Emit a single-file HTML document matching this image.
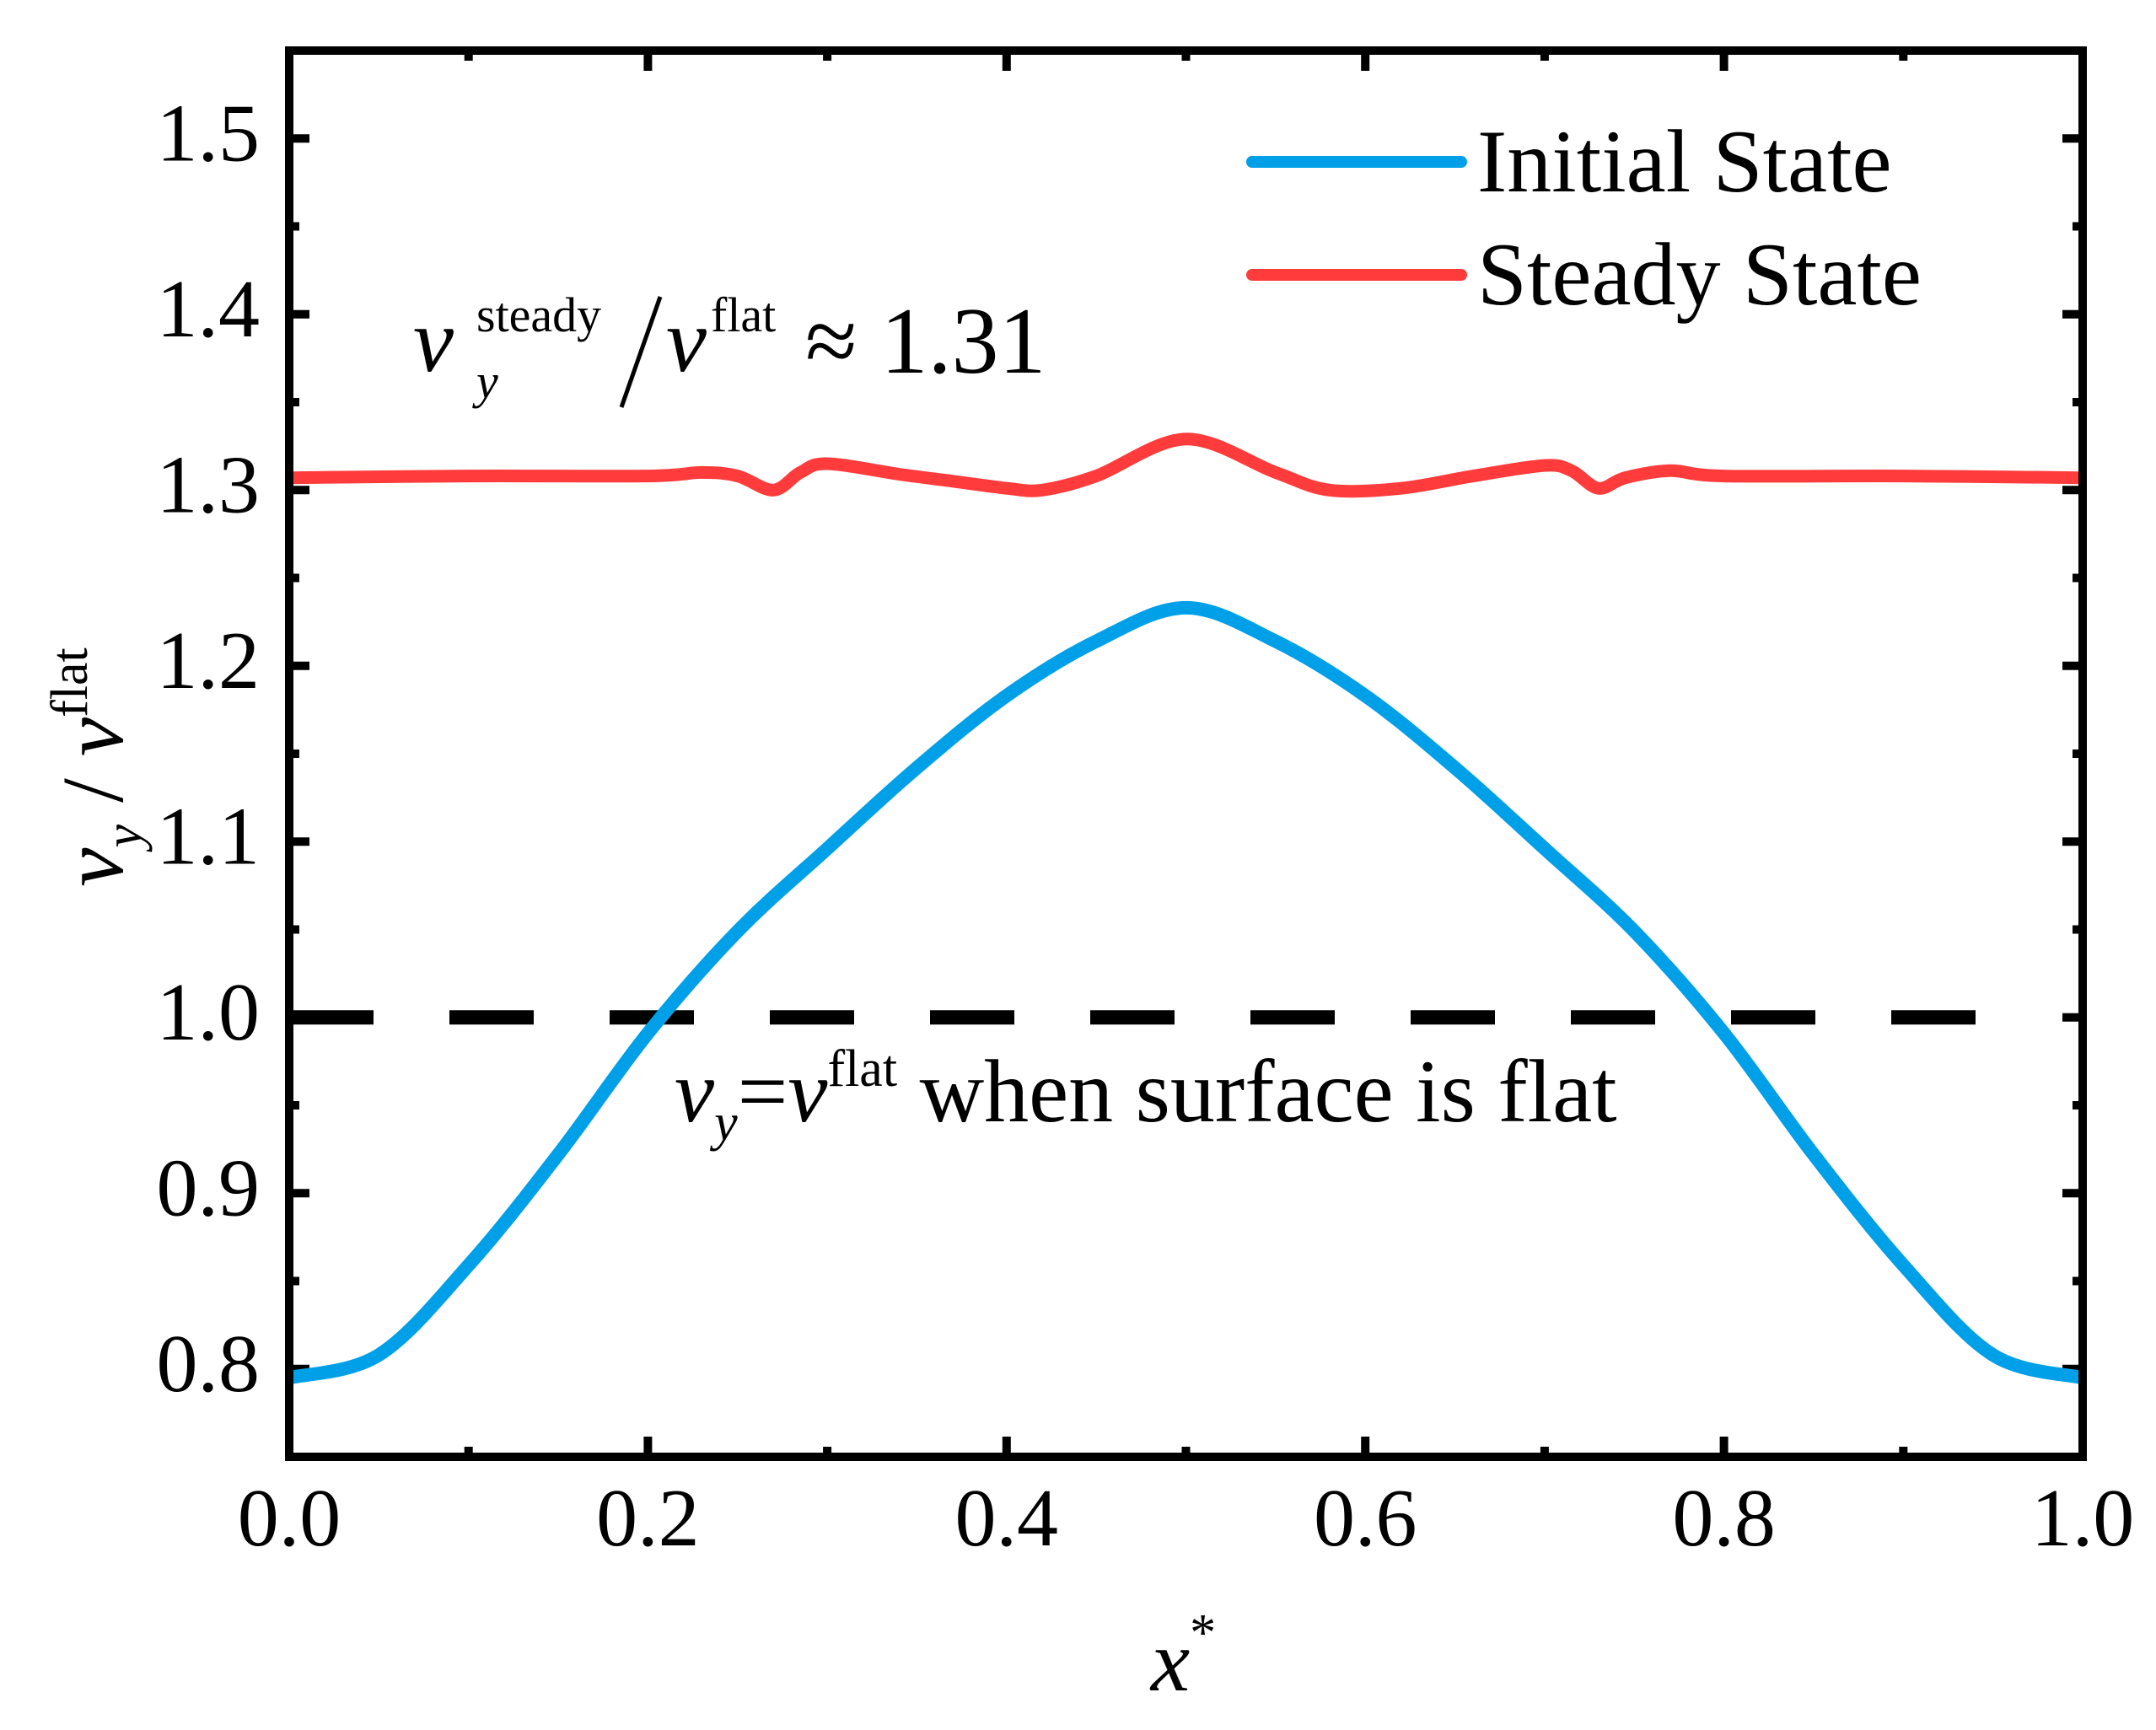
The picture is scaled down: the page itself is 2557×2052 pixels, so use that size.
<!DOCTYPE html>
<html><head><meta charset="utf-8"><style>
html,body{margin:0;padding:0;background:#fff;}
svg{display:block;font-family:"Liberation Serif",serif;}
</style></head><body>
<svg id="chart" width="2557" height="2052" viewBox="0 0 2557 2052" xmlns="http://www.w3.org/2000/svg">
<g id="ticks"></g>
<g id="marks"></g>
<rect x="343" y="60" width="2127" height="1668" fill="none" stroke="#000" stroke-width="10"/>
<g>
<line x1="1485" y1="192" x2="1733" y2="192" stroke="#00a0e9" stroke-width="14" stroke-linecap="round"/>
<text x="1752" y="227" font-size="106">Initial State</text>
<line x1="1485" y1="326" x2="1733" y2="326" stroke="#ff3b3b" stroke-width="14" stroke-linecap="round"/>
<text x="1752" y="361" font-size="106">Steady State</text>
</g>
<g>
<text x="490" y="440" font-size="108" font-style="italic">v</text>
<text x="565" y="393" font-size="58">steady</text>
<text x="565" y="472" font-size="58" font-style="italic">y</text>
<line x1="783" y1="352" x2="737" y2="483" stroke="#000" stroke-width="5"/>
<text x="790" y="440" font-size="108" font-style="italic">v</text>
<text x="843" y="393" font-size="58">flat</text>
<text x="955" y="442" font-size="112">≈ 1.31</text>
</g>
<text x="800" y="1330" font-size="106"><tspan font-style="italic">v</tspan><tspan font-style="italic" font-size="62" dy="22">y</tspan><tspan dy="-22">=</tspan><tspan font-style="italic">v</tspan><tspan font-size="62" dy="-42">flat</tspan><tspan dy="42"> when surface is flat</tspan></text>
<text transform="translate(145,910) rotate(-90)" text-anchor="middle" font-size="104"><tspan font-style="italic">v</tspan><tspan font-style="italic" font-size="62" dy="22">y</tspan><tspan dy="-22"> / </tspan><tspan font-style="italic">v</tspan><tspan font-size="62" dy="-42">flat</tspan></text>
<text x="1365" y="2005" font-size="104" font-style="italic">x<tspan font-style="normal" font-size="62" dy="-48">*</tspan></text>
</svg>
<script>
const xs = [0,0.05,0.1,0.15,0.2,0.25,0.3,0.35,0.4,0.45,0.5,0.55,0.6,0.65,0.7,0.75,0.8,0.85,0.9,0.95,1.0];
const initialVals = [0.795,0.808,0.859,0.922,0.991,1.049,1.096,1.142,1.183,1.214,1.233,1.214,1.183,1.142,1.096,1.049,0.991,0.922,0.859,0.808,0.795];
const steadyX = [0,0.1,0.2,0.23,0.25,0.27,0.285,0.3,0.34,0.37,0.4,0.42,0.45,0.5,0.55,0.58,0.62,0.66,0.70,0.715,0.73,0.745,0.77,0.8,0.9,1.0];
const steadyVals = [1.307,1.308,1.308,1.310,1.308,1.300,1.310,1.315,1.309,1.305,1.301,1.300,1.308,1.329,1.310,1.300,1.301,1.308,1.314,1.311,1.301,1.307,1.311,1.308,1.308,1.307];
const dashY = [1.0];
const xTicks = [0,0.2,0.4,0.6,0.8,1.0];
const xTickLabels = ["0.0","0.2","0.4","0.6","0.8","1.0"];
const yTicks = [0.8,0.9,1.0,1.1,1.2,1.3,1.4,1.5];
const yTickLabels = ["0.8","0.9","1.0","1.1","1.2","1.3","1.4","1.5"];

const L=343,R=2470,T=60,B=1728,Y0=0.75,Y1=1.55;
const sx=v=>L+(R-L)*v;
const sy=v=>B-(B-T)*(v-Y0)/(Y1-Y0);
const NS="http://www.w3.org/2000/svg";
const ticks=document.getElementById('ticks'), marks=document.getElementById('marks');
function mk(tag,attrs,parent){const e=document.createElementNS(NS,tag);for(const k in attrs)e.setAttribute(k,attrs[k]);parent.appendChild(e);return e;}

for(let i=0;i<=10;i++){
  const v=i/10, x=sx(v), len=(i%2===0)?24:12;
  let t=mk('line',{x1:x,y1:B,x2:x,y2:B-len,stroke:'#000','stroke-width':10},ticks);
  
  
  t=mk('line',{x1:x,y1:T,x2:x,y2:T+len,stroke:'#000','stroke-width':10},ticks);
  
  
}
xTicks.forEach((v,i)=>{
  const t=mk('text',{x:sx(v),y:1833,'text-anchor':'middle','font-size':98},ticks);
  t.textContent=xTickLabels[i];
  
  
});
for(let i=0;i<=16;i++){
  const v=0.75+i*0.05; if(v>1.551)break;
  const y=sy(v), len=(i%2===1)?24:12;
  let t=mk('line',{x1:L,y1:y,x2:L+len,y2:y,stroke:'#000','stroke-width':10},ticks);
  
  
  t=mk('line',{x1:R,y1:y,x2:R-len,y2:y,stroke:'#000','stroke-width':10},ticks);
  
  
}
yTicks.forEach((v,i)=>{
  const t=mk('text',{x:308,y:sy(v)+26,'text-anchor':'end','font-size':98},ticks);
  t.textContent=yTickLabels[i];
  
  
});

const d=mk('line',{x1:sx(0),y1:sy(dashY[0]),x2:sx(0.965),y2:sy(dashY[0]),stroke:'#000','stroke-width':17,'stroke-dasharray':'100 90'},marks);



function path(xa,ya){
  const p=xa.map((x,i)=>[sx(x),sy(ya[i])]);
  let s='M'+p[0][0].toFixed(1)+','+p[0][1].toFixed(1);
  for(let i=0;i<p.length-1;i++){
    const p0=p[Math.max(0,i-1)],p1=p[i],p2=p[i+1],p3=p[Math.min(p.length-1,i+2)];
    const c1=[p1[0]+(p2[0]-p0[0])/6,p1[1]+(p2[1]-p0[1])/6];
    const c2=[p2[0]-(p3[0]-p1[0])/6,p2[1]-(p3[1]-p1[1])/6];
    s+=' C'+c1.map(n=>n.toFixed(1)).join(',')+' '+c2.map(n=>n.toFixed(1)).join(',')+' '+p2.map(n=>n.toFixed(1)).join(',');
  }
  return s;
}
const pi=mk('path',{d:path(xs,initialVals),fill:'none',stroke:'#00a0e9','stroke-width':16,'stroke-linejoin':'round'},marks);


const ps=mk('path',{d:path(steadyX,steadyVals),fill:'none',stroke:'#ff3b3b','stroke-width':15,'stroke-linejoin':'round'},marks);


</script>
</body></html>
